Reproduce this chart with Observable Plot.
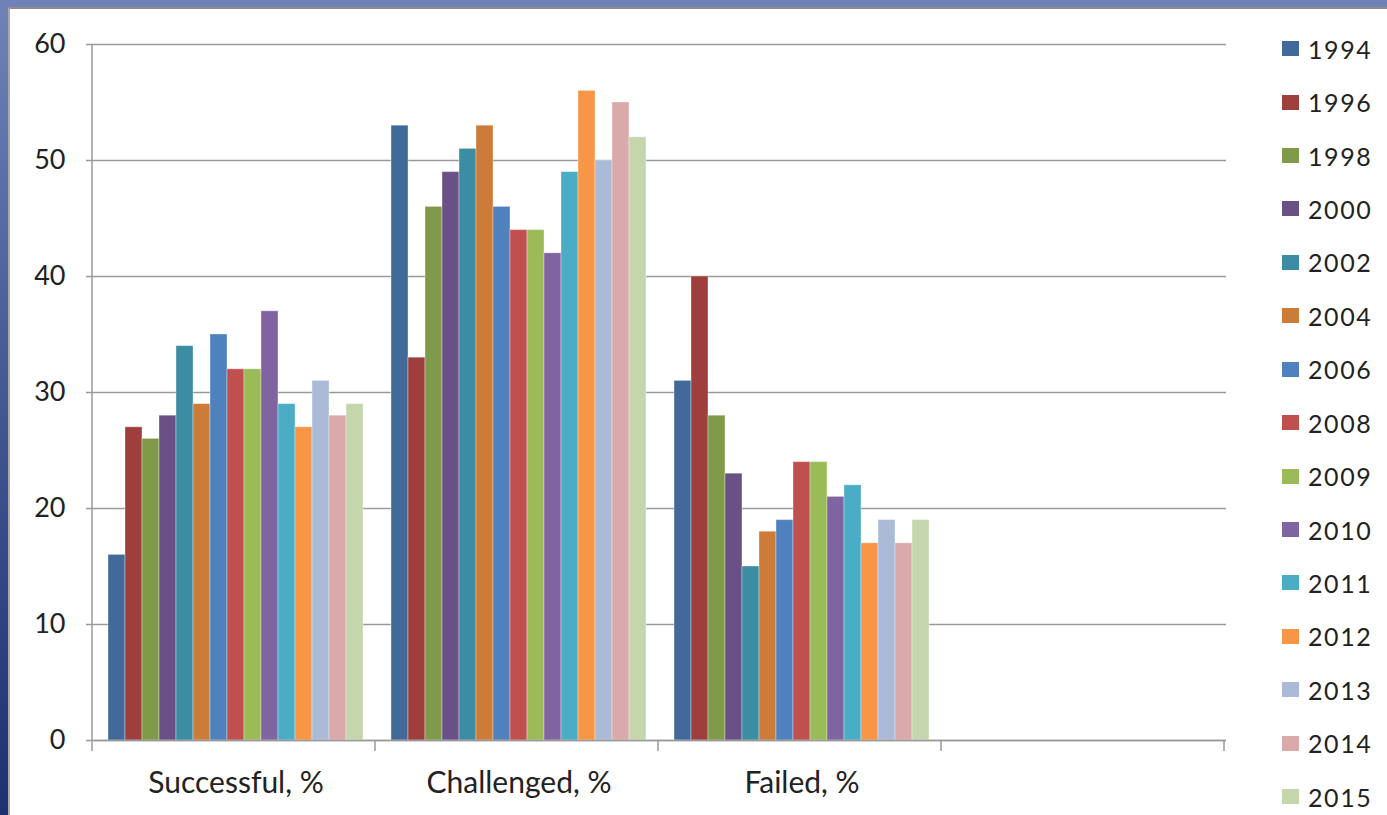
<!DOCTYPE html>
<html><head><meta charset="utf-8">
<script src="https://cdn.jsdelivr.net/npm/d3@7"></script>
<script src="https://cdn.jsdelivr.net/npm/@observablehq/plot@0.6"></script>
<style>
html,body{margin:0;padding:0;background:#fff;}
#frame{position:relative;width:1387px;height:815px;overflow:hidden;background:linear-gradient(to bottom,#7182b9 0%,#4a5f9a 40%,#1b326f 100%);}
#panel{position:absolute;left:8px;top:7px;right:0;bottom:0;background:#fff;border-left:2px solid #a9a9a9;border-top:2px solid #8c8c8c;}
#chart{position:absolute;left:0;top:0;}
#legend{position:absolute;left:1282px;top:22px;font-family:Lato,sans-serif;font-size:25px;letter-spacing:1.6px;color:#222;}
.item{height:53.43px;display:flex;align-items:center;}
.sw{width:17px;height:15px;margin-right:9px;flex:none;}
</style></head>
<body>
<div id="frame"><div id="panel"></div><div id="chart"></div><div id="legend"></div></div>
<script>
const categories = ["Successful, %", "Challenged, %", "Failed, %", ""];
const years = ["1994","1996","1998","2000","2002","2004","2006","2008","2009","2010","2011","2012","2013","2014","2015"];
const successful = [16,27,26,28,34,29,35,32,32,37,29,27,31,28,29];
const challenged = [53,33,46,49,51,53,46,44,44,42,49,56,50,55,52];
const failed     = [31,40,28,23,15,18,19,24,24,21,22,17,19,17,19];
const blank      = [null,null,null,null,null,null,null,null,null,null,null,null,null,null,null];
const colors = ["#416A9B","#9E3F3D","#7F9A48","#695185","#3C8DA3","#CC7B38","#4F81BD","#C0504D","#9BBB59","#8064A2","#4BACC6","#F79646","#AABAD7","#D9AAA9","#C6D6AC"];
const yTicks = [0,10,20,30,40,50,60];

const series = [successful, challenged, failed, blank];
const data = [];
series.forEach((vals, c) => vals.forEach((v, i) => data.push({cat: categories[c], year: years[i], value: v})));

const plot = Plot.plot({
  width: 1387, height: 815,
  marginLeft: 92, marginRight: 160, marginTop: 44, marginBottom: 75,
  style: {background: "transparent", fontFamily: "Lato, sans-serif", fontSize: "27px", color: "#222", overflow: "visible"},
  facet: {data: data, x: "cat"},
  fx: {domain: categories, padding: 0, label: null, tickSize: 0, tickPadding: 31, axis: "bottom"},
  x: {domain: years, axis: null, paddingInner: 0, paddingOuter: 0.72},
  y: {domain: [0, 60], ticks: yTicks, grid: true, tickSize: 8, tickPadding: 21, label: null},
  color: {domain: years, range: colors},
  marks: [
    Plot.barY(data, {x: "year", y: "value", fill: "year", stroke: "#fff", strokeOpacity: 0.35, strokeWidth: 1}),
    Plot.ruleY([0], {stroke: "#9a9a9a", strokeWidth: 1.5})
  ]
});
document.getElementById("chart").appendChild(plot);

// grid / axis styling
d3.select(plot).selectAll("[aria-label='y-grid'] line, [aria-label='y-axis tick'] path, [aria-label='y-axis'] line, [aria-label='y-axis'] path")
  .attr("stroke", "#9a9a9a").attr("stroke-opacity", 1).attr("stroke-width", 1.5);
d3.select(plot).selectAll("g[aria-label='y-grid']").attr("stroke", "#9a9a9a").attr("stroke-opacity", 1).attr("stroke-width", 1.5);
d3.select(plot).selectAll("[aria-label='fx-axis'] text, [aria-label='fx-axis tick label'] text").style("font-size", "30px");

// category boundary ticks and y-axis line, derived from the scales
const fx = plot.scale("fx");
const ys = plot.scale("y");
const y0 = ys.apply(0), yTop = ys.apply(60);
const x0 = fx.range[0], step = fx.step;
const g = d3.select(plot).append("g").attr("stroke", "#9a9a9a").attr("stroke-width", 1.5);
g.append("line").attr("x1", x0).attr("x2", x0).attr("y1", yTop).attr("y2", y0 + 11);
for (let i = 1; i <= categories.length; i++) {
  const bx = x0 + i * step;
  g.append("line").attr("x1", bx).attr("x2", bx).attr("y1", y0).attr("y2", y0 + 11);
}

// legend
const leg = d3.select("#legend");
years.forEach((yr, i) => {
  const it = leg.append("div").attr("class", "item");
  it.append("div").attr("class", "sw").style("background", colors[i]);
  it.append("span").text(yr);
});
</script>
</body></html>
